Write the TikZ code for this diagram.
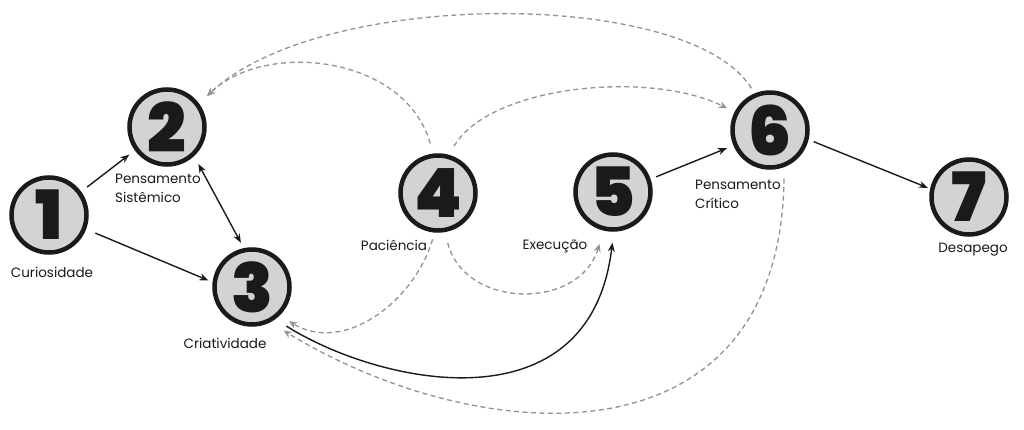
\documentclass[tikz,border=0pt]{standalone}
\usepackage{fontspec}
\setmainfont{Poppins}
\newfontfamily\digitfont{Poppins Black}
\usetikzlibrary{arrows.meta}
\definecolor{circfill}{HTML}{D3D3D3}
\definecolor{dashgray}{HTML}{939393}
\definecolor{ink}{HTML}{1A1A1A}
\begin{document}
\begin{tikzpicture}[x=1pt,y=-1pt,
  num/.style={circle,draw=ink,fill=circfill,line width=4.5pt,minimum size=75pt,inner sep=0pt,
    font=\digitfont\fontsize{68}{68}\selectfont,text=ink},
  lbl/.style={inner sep=0pt,font=\fontsize{13.5}{19}\selectfont,text=ink,align=left},
  solidarrow/.style={draw=ink,line width=1.4pt,-{Stealth[length=9pt,width=7pt]}},
  dasharrow/.style={draw=dashgray,line width=1.3pt,dash pattern=on 5pt off 3.5pt,-{Stealth[length=8pt,width=7pt]}},
]
\fill[white] (0,0) rectangle (1024,430);
\useasboundingbox (0,0) rectangle (1024,430);

\node[num] (n1) at (49,215) {1};
\node[num] (n2) at (167,127) {2};
\node[num] (n3) at (252,287) {3};
\node[num] (n4) at (438,193) {4};
\node[num] (n5) at (613,192) {5};
\node[num] (n6) at (770,130) {6};
\node[num] (n7) at (969,197) {7};

\node[lbl,anchor=base] (l1) at (52,277) {Curiosidade};
\node[lbl,anchor=north west] (l2) at (115,174) {Pensamento\\Sistêmico};
\node[lbl,anchor=base] (l3) at (225,348) {Criatividade};
\node[lbl,anchor=base] (l4) at (394,250) {Paciência};
\node[lbl,anchor=base] (l5) at (555,249) {Execução};
\node[lbl,anchor=north west] (l6) at (695,180) {Pensamento\\Crítico};
\node[lbl,anchor=base] (l7) at (973,252) {Desapego};

% solid straight arrows
\draw[solidarrow,shorten <=7.5pt,shorten >=7pt] (n1.36) -- (n2.216);
\draw[solidarrow,shorten <=10pt,shorten >=4.5pt] (n1.-21) -- (n3.173);
\draw[solidarrow,{Stealth[length=9pt,width=7pt]}-{Stealth[length=9pt,width=7pt]},shorten <=9pt,shorten >=6pt] (n2.-47.5) -- (n3.102.5);
\draw[solidarrow,shorten <=6pt,shorten >=7pt] (n5.19) -- (n6.203);
\draw[solidarrow,shorten <=5.5pt,shorten >=2.5pt] (n6.-14) -- (n7.168);

% solid curve 3 -> 5
\draw[solidarrow,shorten <=13pt,shorten >=11pt] (n3.-54) .. controls (380,385) and (590,430) .. (n5.-89);

% dashed curves
\draw[dasharrow,shorten <=7pt,shorten >=11pt] (n4.265) .. controls (415,300) and (345,355) .. (n3.-46.6);
\draw[dasharrow,shorten <=11pt,shorten >=14pt] (n4.-80) .. controls (465,310) and (580,310) .. (n5.-104);
\draw[dasharrow,shorten <=10.5pt,shorten >=11pt] (n4.97) .. controls (405,55) and (265,40) .. (n2.36);
\draw[dasharrow,shorten <=6pt,shorten >=11pt] (n6.113) .. controls (690,-12) and (320,-12) .. (n2.36);
\draw[dasharrow,shorten <=10pt,shorten >=8.5pt] (n4.74) .. controls (490,85) and (650,70) .. (n6.153);
\draw[dasharrow,shorten <=11.5pt,shorten >=16pt] (n6.-69.4) .. controls (780,470) and (480,450) .. (n3.-63.4);
\end{tikzpicture}
\end{document}
